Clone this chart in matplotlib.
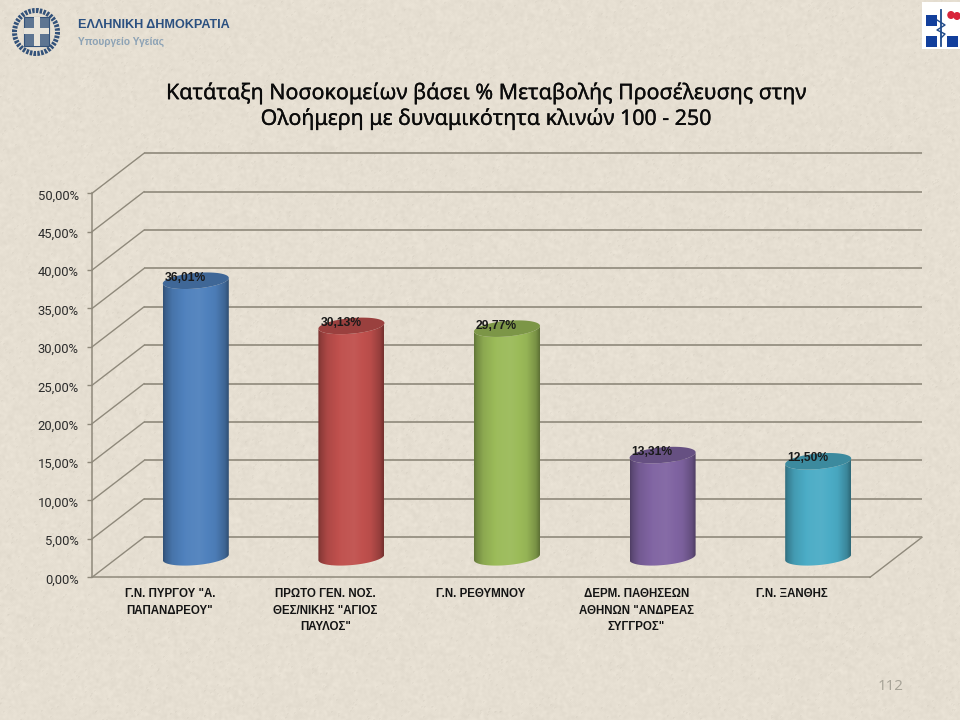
import numpy as np
import matplotlib
matplotlib.use("Agg")
import matplotlib.pyplot as plt
from matplotlib.path import Path
from matplotlib.patches import PathPatch, Circle, Rectangle, Ellipse
from matplotlib.colors import to_rgb
from matplotlib.transforms import Affine2D
import matplotlib.patheffects as pe

# ---- data ----
categories = ['Γ.Ν. ΠΥΡΓΟΥ "Α.\nΠΑΠΑΝΔΡΕΟΥ"',
              'ΠΡΩΤΟ ΓΕΝ. ΝΟΣ.\nΘΕΣ/ΝΙΚΗΣ "ΑΓΙΟΣ\nΠΑΥΛΟΣ"',
              'Γ.Ν. ΡΕΘΥΜΝΟΥ',
              'ΔΕΡΜ. ΠΑΘΗΣΕΩΝ\nΑΘΗΝΩΝ "ΑΝΔΡΕΑΣ\nΣΥΓΓΡΟΣ"',
              'Γ.Ν. ΞΑΝΘΗΣ']
values = [36.01, 30.13, 29.77, 13.31, 12.50]
value_labels = ['36,01%', '30,13%', '29,77%', '13,31%', '12,50%']
ytick_values = [0, 5, 10, 15, 20, 25, 30, 35, 40, 45, 50]
ytick_labels = ['0,00%', '5,00%', '10,00%', '15,00%', '20,00%', '25,00%',
                '30,00%', '35,00%', '40,00%', '45,00%', '50,00%']
bar_colors = ['#4F81BD', '#C0504D', '#9BBB59', '#8064A2', '#4BACC6']
title_lines = 'Κατάταξη Νοσοκομείων βάσει % Μεταβολής Προσέλευσης στην\nΟλοήμερη με δυναμικότητα κλινών 100 - 250'

# ---- style ----
W, H = 960, 720
BG = '#E6DFD2'
GRID = '#8F897B'
plt.rcParams['font.family'] = ['Noto Sans', 'DejaVu Sans']
BOLD = ['Liberation Sans', 'DejaVu Sans']

fig = plt.figure(figsize=(W / 100, H / 100), dpi=100, facecolor=BG)

# paper texture of the slide background (decoration only, from a fixed hash)
yy, xx = np.mgrid[0:H, 0:W]
h = np.sin(xx * 12.9898 + yy * 78.233) * 43758.5453
h = h - np.floor(h)
soft = h.copy()
for _ in range(3):
    soft = (soft + np.roll(soft, 1, 0) + np.roll(soft, -1, 0) + np.roll(soft, 1, 1) + np.roll(soft, -1, 1)) / 5
soft = (soft - soft.mean()) / soft.std()
specks = h > 0.993
specks_soft = specks.astype(float)
specks_soft = (specks_soft + np.roll(specks_soft, 1, 0) + np.roll(specks_soft, 1, 1)) / 3
base = np.array(to_rgb(BG))
tex = base[None, None, :] + (soft * 0.007)[:, :, None] - (specks_soft * 0.07)[:, :, None]
fig.figimage(np.clip(tex, 0, 1), xo=0, yo=0, origin='upper', zorder=-5, resize=False)

L, R, T, B = 92, 870, 193.3, 577.3
ax = fig.add_axes([L / W, 1 - B / H, (R - L) / W, (B - T) / H], facecolor='none')
ax.set_xlim(0, len(categories))
ax.set_ylim(0, 50)
px_x = (R - L) / len(categories)
px_y = (B - T) / 50
depth_x = 52 / px_x
depth_y = 40 / px_y

# walls and floor
for v in ytick_values:
    ax.plot([depth_x, len(categories) + depth_x], [v + depth_y] * 2, color=GRID, lw=1.2,
            clip_on=False, zorder=1, solid_capstyle='butt')
    ax.plot([0, depth_x], [v, v + depth_y], color=GRID, lw=1.0, clip_on=False, zorder=1)
ax.plot([len(categories), len(categories) + depth_x], [0, depth_y], color=GRID, lw=1.0,
        clip_on=False, zorder=1)

for s in ('top', 'right'):
    ax.spines[s].set_visible(False)
for s in ('left', 'bottom'):
    ax.spines[s].set_color(GRID)
    ax.spines[s].set_linewidth(1.1)
ax.set_yticks(ytick_values, ytick_labels, fontsize=9.4, color='#2b2b2b', family=['Roboto', 'DejaVu Sans'])
ax.tick_params(axis='y', length=3.5, width=1.0, color=GRID, pad=6)
for lab in ax.get_yticklabels():
    lab.set_transform(lab.get_transform() + Affine2D().translate(0, -1.0))
ax.set_xticks(np.arange(len(categories)) + 0.5)
ax.set_xticklabels(categories, fontsize=8.3, fontweight='bold', color='#141414',
                   linespacing=1.5, family=BOLD)
ax.tick_params(axis='x', length=0, pad=8)


def shade(col, f):
    c = np.array(to_rgb(col))
    return np.clip(c * f, 0, 1) if f <= 1 else np.clip(c + (1 - c) * (f - 1), 0, 1)


stops_x = [0, 0.04, 0.14, 0.35, 0.55, 0.8, 0.94, 1]
stops_f = [0.62, 0.74, 0.9, 1.02, 1.05, 0.96, 0.78, 0.6]
half_w = 33 / px_x
semi_b = 7.8 / px_y
tilt = 2.8 / px_y
t_front = np.linspace(np.pi, 2 * np.pi, 60)
t_full = np.linspace(0, 2 * np.pi, 120)


def rim(cx, cy, t):
    return cx + half_w * np.cos(t), cy + semi_b * np.sin(t) + tilt * np.cos(t)


for i, (val, col) in enumerate(zip(values, bar_colors)):
    cx = i + 0.5 + depth_x / 2
    y0 = depth_y / 2
    y1 = y0 + val
    # body: lower rim + upper rim
    bx, by = rim(cx, y0, t_front)
    tx, ty = rim(cx, y1, t_front[::-1])
    verts = np.r_[np.c_[bx, by], np.c_[tx, ty], [[bx[0], by[0]]]]
    body = Path(verts, closed=True)
    clip = PathPatch(body, transform=ax.transData, facecolor='none', edgecolor='none')
    xs = np.linspace(0, 1, 200)
    fs = np.interp(xs, stops_x, stops_f)
    grad = np.array([[shade(col, f) for f in fs]])
    im = ax.imshow(grad, extent=[cx - half_w, cx + half_w, y0 - 2, y1 + 2], aspect='auto',
                   zorder=3, interpolation='bilinear')
    im.set_clip_path(clip)
    # top face
    ex, ey = rim(cx, y1, t_full)
    ax.fill(ex, ey, color=shade(col, 0.8), lw=0, zorder=4, clip_on=False)
    ax.annotate(value_labels[i], (cx, y1), xytext=(-10.5, 3), textcoords='offset pixels',
                ha='center', va='center', fontsize=8.7, fontweight='bold', color='#1a1a1a',
                zorder=6, annotation_clip=False, family=BOLD)

ax.set_xlim(0, len(categories))
ax.set_ylim(0, 50)

# ---- title, page number and logos, placed on a pixel overlay ----
ov = fig.add_axes([0, 0, 1, 1], facecolor='none')
ov.set_xlim(0, W)
ov.set_ylim(H, 0)
ov.axis('off')
ov.text(486, 106, title_lines, ha='center', va='center', fontsize=15.4, color='#0b0b0b',
        linespacing=1.22, path_effects=[pe.withStroke(linewidth=0.2, foreground='#0b0b0b')])
ov.text(891, 687, '112', ha='center', va='center', fontsize=10.8, color='#a8a498')

# Greek state emblem
EB = '#33527A'
ov.add_patch(Circle((36, 32), 21.5, fill=False, ec=EB, lw=3.6, ls=(0, (0.5, 0.25))))
ov.add_patch(Rectangle((24, 17), 25, 29, fc='#5D7592', ec=EB, lw=0.8))
ov.add_patch(Rectangle((33.5, 17), 6, 29, fc='#E8E4DA', lw=0))
ov.add_patch(Rectangle((24, 28), 25, 6, fc='#E8E4DA', lw=0))
ov.text(78, 24.5, 'ΕΛΛΗΝΙΚΗ ΔΗΜΟΚΡΑΤΙΑ', ha='left', va='center', fontsize=9.1,
        fontweight='bold', color='#2B5080', family=BOLD)
ov.text(78, 42, 'Υπουργείο Υγείας', ha='left', va='center', fontsize=7.3,
        fontweight='bold', color='#8CA2B5', family=BOLD)

# Ministry logo
ov.add_patch(Rectangle((922, 2), 38, 47, fc='white', lw=0))
LB = '#123F9C'
for (x, y) in [(926, 15), (926, 36), (947, 36)]:
    ov.add_patch(Rectangle((x, y), 10.5, 10.5, fc=LB, lw=0))
ov.add_patch(Ellipse((951, 15), 7.5, 8, fc='#D8243A', lw=0))
ov.add_patch(Ellipse((957, 16), 7.5, 8, fc='#D8243A', lw=0))
ov.plot([941, 941], [10, 46], color='#1F4A8A', lw=1.3)
ov.plot([937, 945, 937, 945, 941], [20, 25, 30, 34, 38], color='#1F4A8A', lw=1.0)

fig.savefig('out.png', dpi=100, facecolor=BG)
